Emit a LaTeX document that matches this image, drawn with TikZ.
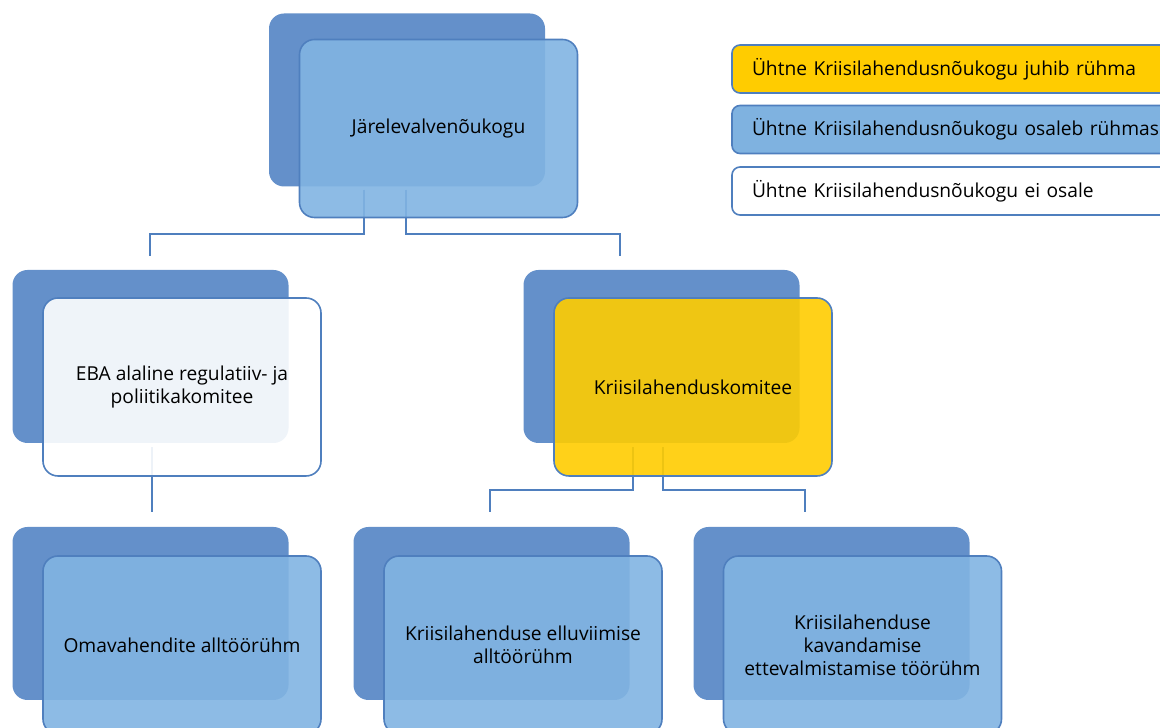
\documentclass[tikz,border=0pt]{standalone}
\usepackage{fontspec}
\setmainfont{Open Sans}
\definecolor{backblue}{RGB}{100,144,202}
\definecolor{frontblue}{RGB}{129,180,226}
\definecolor{edgeblue}{RGB}{79,127,190}
\definecolor{legblue}{RGB}{127,178,224}
\definecolor{leadyellow}{RGB}{255,204,0}

\begin{document}
\begin{tikzpicture}[x=1pt, y=1pt,
    backbox/.style={rectangle, rounded corners=15pt, fill=backblue, minimum width=276pt, minimum height=173pt},
    frontbox/.style={rectangle, rounded corners=15pt, draw=edgeblue, line width=1.6pt, fill=frontblue, fill opacity=0.9, text opacity=1, minimum width=278pt, minimum height=178pt, align=center, font=\fontsize{19.2}{23}\selectfont},
    legendbox/.style={rectangle, rounded corners=8pt, draw=edgeblue, line width=1.6pt, minimum width=460pt, minimum height=48pt, text width=420pt, align=left, font=\fontsize{19.2}{23}\selectfont},
    conn/.style={draw=edgeblue, line width=2.4pt}]
    \clip (0,0) rectangle (1160,728);
    % Back plates of the group boxes.
    \node[backbox] (jarB) at (407,628) {};
    \node[backbox] (ebaB) at (150.5,371.5) {};
    \node[backbox] (kriB) at (661.5,371.5) {};
    \node[backbox] (omaB) at (150.5,114.5) {};
    \node[backbox] (elluB) at (491.5,114.5) {};
    \node[backbox] (kavB) at (831.5,114.5) {};
    % Ends of the connectors.
    \coordinate (ebaTop) at (150,472);
    \coordinate (kriTop) at (620,472);
    \coordinate (omaTop) at (152,216);
    \coordinate (elluTop) at (490,216);
    \coordinate (kavTop) at (805,216);
    \draw[conn] ([xshift=-43pt, yshift=-3pt]jarB.south) |- ([yshift=22pt]ebaTop) -- (ebaTop);
    \draw[conn] ([xshift=-1pt, yshift=-3pt]jarB.south) |- ([yshift=22pt]kriTop) -- (kriTop);
    \draw[conn] ([xshift=1.5pt, yshift=-4pt]ebaB.south) -- (omaTop);
    \draw[conn] ([xshift=-28.5pt, yshift=-4pt]kriB.south) |- ([yshift=22pt]elluTop) -- (elluTop);
    \draw[conn] ([xshift=1.5pt, yshift=-4pt]kriB.south) |- ([yshift=22pt]kavTop) -- (kavTop);
    % Front plates with the texts.
    \node[frontbox] (jar) at (438.5,599.5) {Järelevalvenõukogu};
    \node[frontbox, fill=white] (eba) at (182,341) {EBA alaline regulatiiv- ja\\poliitikakomitee};
    \node[frontbox, fill=leadyellow] (kri) at (693,341) {Kriisilahenduskomitee};
    \node[frontbox] (oma) at (182,83) {Omavahendite alltöörühm};
    \node[frontbox] (ellu) at (523,83) {Kriisilahenduse elluviimise\\alltöörühm};
    \node[frontbox] (kav) at (862.5,83) {Kriisilahenduse\\kavandamise\\ettevalmistamise töörühm};
    % Legend.
    \node[legendbox, fill=leadyellow] (legLead) at (962,659) {Ühtne Kriisilahendusnõukogu juhib rühma};
    \node[legendbox, fill=legblue] (legPart) at (962,598.5) {Ühtne Kriisilahendusnõukogu osaleb rühmas};
    \node[legendbox, fill=white] (legNone) at (962,537) {Ühtne Kriisilahendusnõukogu ei osale};
\end{tikzpicture}
\end{document}
